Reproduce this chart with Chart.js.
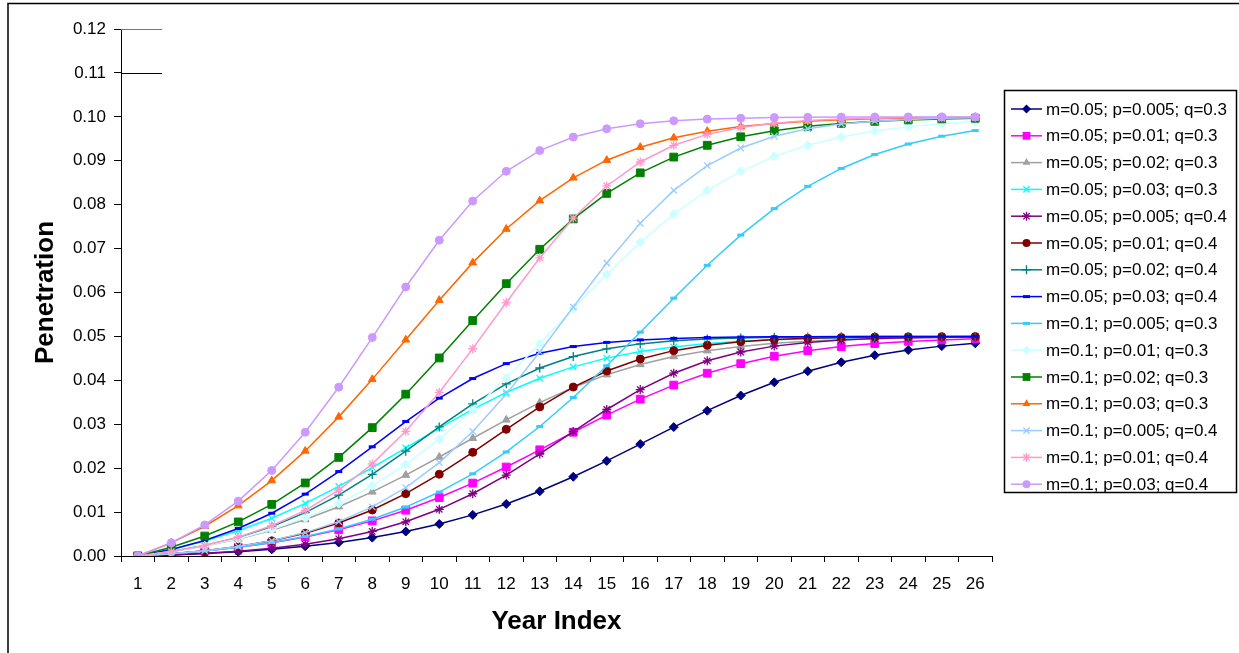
<!DOCTYPE html>
<html>
<head>
<meta charset="utf-8">
<script src="https://cdn.jsdelivr.net/npm/chart.js@4.4.1/dist/chart.umd.min.js"></script>
<style>
  html, body { margin: 0; padding: 0; background: #fff; }
  #wrap { width: 1239px; height: 653px; position: relative; }
</style>
</head>
<body>
<div id="wrap"><canvas id="bassChart" width="1239" height="653"></canvas></div>
<script>
const yearIndex = ["1","2","3","4","5","6","7","8","9","10","11","12","13","14","15","16","17","18","19","20","21","22","23","24","25","26"];

const yTickLabels = ["0.00","0.01","0.02","0.03","0.04","0.05","0.06","0.07","0.08","0.09","0.10","0.11","0.12"];

const seriesLabels = [
  "m=0.05; p=0.005; q=0.3",
  "m=0.05; p=0.01; q=0.3",
  "m=0.05; p=0.02; q=0.3",
  "m=0.05; p=0.03; q=0.3",
  "m=0.05; p=0.005; q=0.4",
  "m=0.05; p=0.01; q=0.4",
  "m=0.05; p=0.02; q=0.4",
  "m=0.05; p=0.03; q=0.4",
  "m=0.1; p=0.005; q=0.3",
  "m=0.1; p=0.01; q=0.3",
  "m=0.1; p=0.02; q=0.3",
  "m=0.1; p=0.03; q=0.3",
  "m=0.1; p=0.005; q=0.4",
  "m=0.1; p=0.01; q=0.4",
  "m=0.1; p=0.03; q=0.4"
];

const m05p005q03 = [0, 0.00025, 0.00057, 0.00099, 0.00153, 0.00221, 0.00309, 0.00419, 0.00557, 0.00728, 0.00936, 0.01184, 0.01474, 0.01804, 0.02166, 0.02548, 0.02935, 0.03309, 0.03654, 0.03955, 0.04209, 0.04412, 0.04571, 0.04691, 0.04779, 0.04844];
const m05p01q03 = [0, 0.0005, 0.00114, 0.00197, 0.00301, 0.00433, 0.00598, 0.00800, 0.01043, 0.01331, 0.01660, 0.02026, 0.02418, 0.02818, 0.03209, 0.03572, 0.03892, 0.04162, 0.04380, 0.04549, 0.04676, 0.04770, 0.04838, 0.04887, 0.04921, 0.04945];
const m05p02q03 = [0, 0.001, 0.00227, 0.00388, 0.00588, 0.00831, 0.01123, 0.01461, 0.01842, 0.02255, 0.02681, 0.03100, 0.03492, 0.03838, 0.04129, 0.04362, 0.04542, 0.04676, 0.04773, 0.04843, 0.04892, 0.04926, 0.04949, 0.04965, 0.04976, 0.04984];
const m05p03q03 = [0, 0.0015, 0.00339, 0.00574, 0.00859, 0.01197, 0.01584, 0.02011, 0.02461, 0.02912, 0.03340, 0.03722, 0.04046, 0.04306, 0.04506, 0.04655, 0.04761, 0.04837, 0.04889, 0.04925, 0.04949, 0.04966, 0.04977, 0.04985, 0.04990, 0.04993];
const m05p005q04 = [0, 0.00025, 0.00060, 0.00108, 0.00175, 0.00267, 0.00391, 0.00559, 0.00779, 0.01063, 0.01418, 0.01842, 0.02323, 0.02834, 0.03336, 0.03789, 0.04162, 0.04445, 0.04645, 0.04779, 0.04864, 0.04918, 0.04951, 0.04970, 0.04982, 0.04989];
const m05p01q04 = [0, 0.0005, 0.00119, 0.00215, 0.00345, 0.00520, 0.00751, 0.01048, 0.01419, 0.01862, 0.02361, 0.02885, 0.03395, 0.03847, 0.04213, 0.04486, 0.04676, 0.04800, 0.04879, 0.04927, 0.04957, 0.04974, 0.04985, 0.04991, 0.04995, 0.04997];
const m05p02q04 = [0, 0.001, 0.00237, 0.00423, 0.00669, 0.00988, 0.01385, 0.01858, 0.02388, 0.02939, 0.03465, 0.03921, 0.04281, 0.04542, 0.04717, 0.04830, 0.04899, 0.04941, 0.04965, 0.04980, 0.04988, 0.04993, 0.04996, 0.04998, 0.04999, 0.04999];
const m05p03q04 = [0, 0.0015, 0.00354, 0.00625, 0.00974, 0.01409, 0.01922, 0.02487, 0.03062, 0.03595, 0.04041, 0.04380, 0.04616, 0.04769, 0.04864, 0.04921, 0.04955, 0.04974, 0.04985, 0.04991, 0.04995, 0.04997, 0.04998, 0.04999, 0.05000, 0.05000];
const m10p005q03 = [0, 0.0005, 0.00115, 0.00198, 0.00305, 0.00443, 0.00617, 0.00838, 0.01114, 0.01456, 0.01872, 0.02369, 0.02949, 0.03608, 0.04332, 0.05097, 0.05871, 0.06619, 0.07307, 0.07911, 0.08417, 0.08825, 0.09142, 0.09381, 0.09559, 0.09687];
const m10p01q03 = [0, 0.001, 0.00229, 0.00393, 0.00603, 0.00867, 0.01196, 0.01600, 0.02087, 0.02661, 0.03320, 0.04053, 0.04835, 0.05636, 0.06418, 0.07143, 0.07784, 0.08324, 0.08759, 0.09097, 0.09353, 0.09541, 0.09677, 0.09774, 0.09842, 0.09891];
const m10p02q03 = [0, 0.002, 0.00455, 0.00776, 0.01175, 0.01663, 0.02245, 0.02923, 0.03685, 0.04509, 0.05362, 0.06201, 0.06984, 0.07676, 0.08257, 0.08724, 0.09083, 0.09352, 0.09546, 0.09685, 0.09783, 0.09851, 0.09898, 0.09930, 0.09953, 0.09968];
const m10p03q03 = [0, 0.003, 0.00678, 0.01148, 0.01718, 0.02393, 0.03168, 0.04022, 0.04923, 0.05825, 0.06680, 0.07445, 0.08092, 0.08612, 0.09013, 0.09309, 0.09523, 0.09673, 0.09778, 0.09850, 0.09899, 0.09932, 0.09954, 0.09969, 0.09979, 0.09986];
const m10p005q04 = [0, 0.0005, 0.00120, 0.00216, 0.00350, 0.00533, 0.00783, 0.01117, 0.01558, 0.02127, 0.02836, 0.03685, 0.04647, 0.05669, 0.06672, 0.07577, 0.08324, 0.08890, 0.09290, 0.09558, 0.09729, 0.09836, 0.09901, 0.09941, 0.09965, 0.09979];
const m10p01q04 = [0, 0.001, 0.00239, 0.00429, 0.00689, 0.01039, 0.01501, 0.02097, 0.02839, 0.03724, 0.04721, 0.05771, 0.06789, 0.07693, 0.08426, 0.08972, 0.09352, 0.09601, 0.09758, 0.09855, 0.09914, 0.09949, 0.09970, 0.09982, 0.09989, 0.09994];
const m10p03q04 = [0, 0.003, 0.00707, 0.01249, 0.01949, 0.02818, 0.03843, 0.04974, 0.06125, 0.07191, 0.08083, 0.08760, 0.09232, 0.09539, 0.09728, 0.09842, 0.09909, 0.09948, 0.09970, 0.09983, 0.09990, 0.09994, 0.09997, 0.09998, 0.09999, 0.09999];

const seriesValues = [
  m05p005q03, m05p01q03, m05p02q03, m05p03q03,
  m05p005q04, m05p01q04, m05p02q04, m05p03q04,
  m10p005q03, m10p01q03, m10p02q03, m10p03q03,
  m10p005q04, m10p01q04, m10p03q04
];

const seriesColors = ["#000080", "#FF00FF", "#A0A0A0", "#00FFFF", "#800080", "#800000", "#008080", "#0000FF",
                      "#33CCFF", "#CCFFFF", "#008000", "#FF6600", "#99CCFF", "#FF99CC", "#CC99FF"];
const seriesMarkers = ["rectRot", "rect", "triangle", "crossRot", "star", "circle", "cross", "line",
                       "line", "rectRot", "rect", "triangle", "crossRot", "star", "circle"];

const FONT = "'Liberation Sans', Arial, sans-serif";

function markerRadius(style) {
  if (style === "rect") return 5.5;
  if (style === "circle") return 4;
  if (style === "line") return 3.5;
  return 4.5;
}
function markerBorder(style) {
  if (style === "line") return 3;
  if (style === "crossRot" || style === "star" || style === "cross") return 1.3;
  return 1;
}

const datasets = seriesValues.map((vals, i) => ({
  label: seriesLabels[i],
  data: vals,
  borderColor: seriesColors[i],
  backgroundColor: seriesColors[i],
  borderWidth: 1.5,
  pointStyle: seriesMarkers[i],
  pointRadius: markerRadius(seriesMarkers[i]),
  pointBorderWidth: markerBorder(seriesMarkers[i]),
  pointBackgroundColor: seriesColors[i],
  pointBorderColor: seriesColors[i],
  tension: 0,
  fill: false,
  order: seriesValues.length - i,
}));

function drawMarker(ctx, style, x, y, r, color, bw) {
  ctx.save();
  ctx.fillStyle = color;
  ctx.strokeStyle = color;
  ctx.lineWidth = bw;
  ctx.beginPath();
  if (style === "rectRot") {
    ctx.moveTo(x, y - r); ctx.lineTo(x + r, y); ctx.lineTo(x, y + r); ctx.lineTo(x - r, y); ctx.closePath(); ctx.fill();
  } else if (style === "rect") {
    const s = r * Math.SQRT1_2;
    ctx.rect(x - s, y - s, 2 * s, 2 * s); ctx.fill();
  } else if (style === "triangle") {
    const w = r * Math.sqrt(3);
    ctx.moveTo(x, y - r); ctx.lineTo(x + w / 2, y + r / 2); ctx.lineTo(x - w / 2, y + r / 2); ctx.closePath(); ctx.fill();
  } else if (style === "circle") {
    ctx.arc(x, y, r, 0, Math.PI * 2); ctx.fill();
  } else if (style === "crossRot") {
    const d = r * Math.SQRT1_2;
    ctx.moveTo(x - d, y - d); ctx.lineTo(x + d, y + d); ctx.moveTo(x + d, y - d); ctx.lineTo(x - d, y + d); ctx.stroke();
  } else if (style === "cross") {
    ctx.moveTo(x - r, y); ctx.lineTo(x + r, y); ctx.moveTo(x, y - r); ctx.lineTo(x, y + r); ctx.stroke();
  } else if (style === "star") {
    const d = r * Math.SQRT1_2;
    ctx.moveTo(x - d, y - d); ctx.lineTo(x + d, y + d); ctx.moveTo(x + d, y - d); ctx.lineTo(x - d, y + d);
    ctx.moveTo(x - r, y); ctx.lineTo(x + r, y); ctx.moveTo(x, y - r); ctx.lineTo(x, y + r); ctx.stroke();
  } else if (style === "line") {
    ctx.moveTo(x - r, y); ctx.lineTo(x + r, y); ctx.stroke();
  }
  ctx.restore();
}

// frame, axis titles, the two stray lines at 0.11/0.12 and the boxed legend
const decorPlugin = {
  id: "decor",
  afterDraw(chart) {
    const ctx = chart.ctx;
    const area = chart.chartArea;
    const y = chart.scales.y;
    ctx.save();

    ctx.strokeStyle = "#000";
    ctx.lineWidth = 1.5;
    ctx.beginPath();
    ctx.moveTo(8, 653); ctx.lineTo(8, 3.5); ctx.lineTo(1239, 3.5);
    ctx.stroke();

    ctx.lineWidth = 1;
    ctx.strokeStyle = "#777";
    ctx.beginPath();
    ctx.moveTo(area.left, Math.round(y.getPixelForValue(0.12)) + 0.5);
    ctx.lineTo(162, Math.round(y.getPixelForValue(0.12)) + 0.5);
    ctx.stroke();
    ctx.strokeStyle = "#000";
    ctx.beginPath();
    ctx.moveTo(area.left, Math.round(y.getPixelForValue(0.11)) + 0.5);
    ctx.lineTo(162, Math.round(y.getPixelForValue(0.11)) + 0.5);
    ctx.stroke();

    ctx.fillStyle = "#000";
    ctx.font = "bold 26px " + FONT;
    ctx.textAlign = "center";
    ctx.textBaseline = "middle";
    ctx.fillText("Year Index", (area.left + area.right) / 2, 622);
    ctx.save();
    ctx.translate(46, (area.top + area.bottom) / 2);
    ctx.rotate(-Math.PI / 2);
    ctx.fillText("Penetration", 0, 0);
    ctx.restore();

    // legend
    ctx.strokeStyle = "#000";
    ctx.lineWidth = 1.5;
    ctx.strokeRect(1004.5, 90.5, 232, 402);
    ctx.font = "17px " + FONT;
    ctx.textAlign = "left";
    ctx.textBaseline = "middle";
    seriesLabels.forEach((label, i) => {
      const ly = 109 + i * 26.8;
      ctx.strokeStyle = seriesColors[i];
      ctx.lineWidth = 1.5;
      ctx.beginPath();
      ctx.moveTo(1011, ly); ctx.lineTo(1042, ly);
      ctx.stroke();
      drawMarker(ctx, seriesMarkers[i], 1026.5, ly, markerRadius(seriesMarkers[i]), seriesColors[i], markerBorder(seriesMarkers[i]));
      ctx.fillStyle = "#000";
      ctx.fillText(label, 1046, ly + 1);
    });
    ctx.restore();
  }
};

new Chart(document.getElementById("bassChart"), {
  type: "line",
  data: {
    labels: yearIndex,
    datasets: datasets,
  },
  options: {
    responsive: false,
    animation: false,
    layout: {
      padding: { left: 0, right: 247, top: 29, bottom: 0 },
    },
    plugins: {
      legend: { display: false },
      tooltip: { enabled: false },
    },
    scales: {
      x: {
        type: "category",
        offset: true,
        grid: {
          offset: true,
          drawOnChartArea: false,
          drawTicks: true,
          tickLength: 6,
          color: "#000",
        },
        border: { color: "#000", width: 1 },
        ticks: {
          color: "#000",
          font: { family: FONT, size: 17 },
          padding: 12,
          autoSkip: false,
          maxRotation: 0,
        },
        afterFit(scale) { scale.height = 97; },
      },
      y: {
        min: 0,
        max: 0.12,
        grid: {
          drawOnChartArea: false,
          drawTicks: true,
          tickLength: 7,
          color: "#000",
        },
        border: { color: "#000", width: 1 },
        ticks: {
          color: "#000",
          font: { family: FONT, size: 17 },
          stepSize: 0.01,
          padding: 8,
          callback: (v, i) => yTickLabels[i],
        },
        afterFit(scale) { scale.width = 121; },
      },
    },
  },
  plugins: [decorPlugin],
});
</script>
</body>
</html>
